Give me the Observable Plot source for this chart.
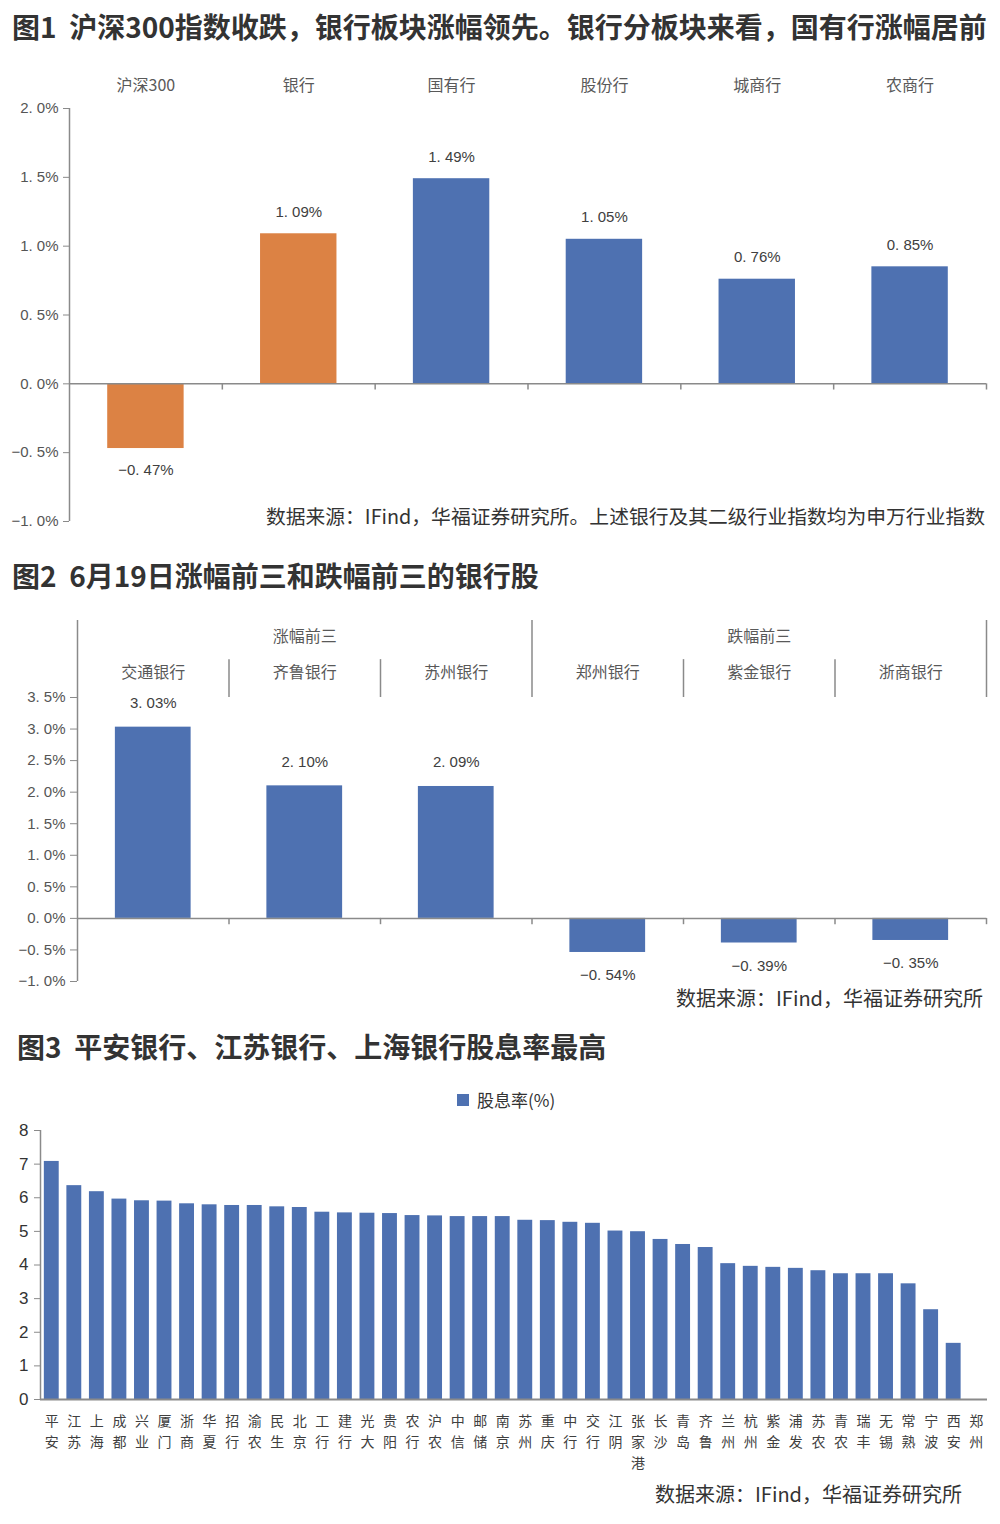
<!DOCTYPE html>
<html>
<head>
<meta charset="utf-8">
<script src="https://cdn.jsdelivr.net/npm/d3@7"></script>
<script src="https://cdn.jsdelivr.net/npm/@observablehq/plot@0.6"></script>
<style>
  body { margin: 0; background: #fff; }
  #page { position: relative; width: 1000px; height: 1524px; overflow: hidden; font-family: "Noto Sans CJK SC", sans-serif; background: #fff; }
  .title { position: absolute; font-weight: 700; font-size: 28px; line-height: 1; color: #333; white-space: nowrap; }
  .cap { position: absolute; font-size: 20px; line-height: 1; color: #333; white-space: nowrap; }
  .chart { position: absolute; left: 0; width: 1000px; }
  .legend { position: absolute; left: 457px; top: 1090px; font-size: 17px; line-height: 20px; color: #333; white-space: nowrap; display: flex; align-items: center; }
  .legend .sw { width: 12px; height: 12px; background: #4E71B1; margin-right: 8px; }
</style>
</head>
<body>
<div id="page">
  <div class="title" style="left:12px; top:12px;">图1&nbsp;&nbsp;沪深300指数收跌，银行板块涨幅领先。银行分板块来看，国有行涨幅居前</div>
  <div class="chart" id="c1" style="top:60px;"></div>
  <div class="cap" style="right:15px; top:506px; font-size:19.8px;">数据来源：IFind，华福证券研究所。上述银行及其二级行业指数均为申万行业指数</div>

  <div class="title" style="left:12px; top:561px;">图2&nbsp;&nbsp;6月19日涨幅前三和跌幅前三的银行股</div>
  <div class="chart" id="c2" style="top:600px;"></div>
  <div class="cap" style="right:17px; top:988px;">数据来源：IFind，华福证券研究所</div>

  <div class="title" style="left:17px; top:1032px;">图3&nbsp;&nbsp;平安银行、江苏银行、上海银行股息率最高</div>
  <div class="legend"><span class="sw"></span><span id="legtext"></span></div>
  <div class="chart" id="c3" style="top:1115px;"></div>
  <div class="cap" style="right:38px; top:1484px;">数据来源：IFind，华福证券研究所</div>
</div>
<script>
// ---------- data ----------
const fig1Categories = ["沪深300", "银行", "国有行", "股份行", "城商行", "农商行"];
const fig1Values = [-0.47, 1.09, 1.49, 1.05, 0.76, 0.85];
const fig1Levels = ["大盘指数", "一级行业", "二级行业", "二级行业", "二级行业", "二级行业"];
const fig1YTicks = [-1, -0.5, 0, 0.5, 1, 1.5, 2];

const fig2Groups = ["涨幅前三", "跌幅前三"];
const fig2Banks = ["交通银行", "齐鲁银行", "苏州银行", "郑州银行", "紫金银行", "浙商银行"];
const fig2Values = [3.03, 2.10, 2.09, -0.54, -0.39, -0.35];
const fig2YTicks = [-1, -0.5, 0, 0.5, 1, 1.5, 2, 2.5, 3, 3.5];

const fig3SeriesName = "股息率(%)";
const fig3Banks = ["平安", "江苏", "上海", "成都", "兴业", "厦门", "浙商", "华夏", "招行", "渝农",
  "民生", "北京", "工行", "建行", "光大", "贵阳", "农行", "沪农", "中信", "邮储",
  "南京", "苏州", "重庆", "中行", "交行", "江阴", "张家港", "长沙", "青岛", "齐鲁",
  "兰州", "杭州", "紫金", "浦发", "苏农", "青农", "瑞丰", "无锡", "常熟", "宁波",
  "西安", "郑州"];
const fig3Yields = [7.08, 6.36, 6.18, 5.96, 5.91, 5.90, 5.82, 5.79, 5.77, 5.77,
  5.73, 5.71, 5.57, 5.55, 5.54, 5.53, 5.47, 5.46, 5.44, 5.44,
  5.44, 5.33, 5.32, 5.27, 5.24, 5.01, 4.99, 4.76, 4.61, 4.52,
  4.04, 3.96, 3.93, 3.90, 3.83, 3.74, 3.74, 3.74, 3.44, 2.67,
  1.67, null];
const fig3YTicks = [0, 1, 2, 3, 4, 5, 6, 7, 8];

// ---------- styles ----------
const blue = "#4E71B1", orange = "#DC8244", axisGray = "#8A8A8A";
const numFont = '"Liberation Sans", "Noto Sans CJK SC", sans-serif';
const cjkFont = '"Noto Sans CJK SC", sans-serif';
const sign = v => (v < 0 ? "−" : "");
const fmtPct1 = v => sign(v) + Math.abs(v).toFixed(1).replace(".", ". ") + "%";
const fmtPct2 = v => sign(v) + Math.abs(v).toFixed(2).replace(".", ". ") + "%";
const baseStyle = {fontFamily: numFont, fontSize: "15px", background: "transparent", overflow: "visible"};

// ---------- figure 1 ----------
const d1 = fig1Categories.map((name, i) => ({name, value: fig1Values[i], level: fig1Levels[i], i}));
const n1 = d1.length;
const p1 = Plot.plot({
  width: 1000, height: 480,
  marginTop: 48, marginBottom: 19, marginLeft: 69, marginRight: 14,
  x: {domain: [0, n1], axis: null},
  y: {domain: [-1, 2]},
  color: {domain: ["大盘指数", "一级行业", "二级行业"], range: [orange, orange, blue]},
  style: baseStyle,
  marks: [
    Plot.rectY(d1, {x1: d => d.i + 0.25, x2: d => d.i + 0.75, y1: 0, y2: "value", fill: "level"}),
    Plot.ruleY([0], {stroke: axisGray, strokeWidth: 1.5}),
    Plot.ruleX([0], {y1: -1, y2: 2, stroke: axisGray, strokeWidth: 1.5}),
    Plot.ruleX(d3.range(1, n1 + 1), {y1: 0, y2: -0.045, stroke: axisGray, strokeWidth: 1.5}),
    Plot.axisY({ticks: fig1YTicks, tickFormat: fmtPct1, tickSize: 6, tickPadding: 5, stroke: axisGray, fill: "#555", label: null, fontSize: 15}),
    Plot.text(d1.filter(d => d.value >= 0), {x: d => d.i + 0.5, y: "value", text: d => fmtPct2(d.value), dy: -22, fill: "#404040", fontSize: 15}),
    Plot.text(d1.filter(d => d.value < 0), {x: d => d.i + 0.5, y: "value", text: d => fmtPct2(d.value), dy: 22, fill: "#404040", fontSize: 15}),
    Plot.text(d1, {x: d => d.i + 0.5, frameAnchor: "top", dy: -29, text: "name", fill: "#595959", fontSize: 16, fontFamily: cjkFont})
  ]
});
document.getElementById("c1").appendChild(p1);

// ---------- figure 2 ----------
const perGroup = fig2Banks.length / fig2Groups.length;
const d2 = fig2Banks.map((name, i) => ({name, value: fig2Values[i], group: fig2Groups[Math.floor(i / perGroup)], i}));
const n2 = d2.length;
const headTop = 4.72, subTop = 4.10, tickTop = 3.5;
const bounds2 = d3.range(0, n2 + 1);
const p2 = Plot.plot({
  width: 1000, height: 400,
  marginTop: 20, marginBottom: 19, marginLeft: 77, marginRight: 14,
  x: {domain: [0, n2], axis: null},
  y: {domain: [-1, headTop]},
  style: baseStyle,
  marks: [
    Plot.rectY(d2, {x1: d => d.i + 0.25, x2: d => d.i + 0.75, y1: 0, y2: "value", fill: blue}),
    Plot.ruleY([0], {stroke: axisGray, strokeWidth: 1.5}),
    Plot.ruleX([0], {y1: -1, y2: headTop, stroke: axisGray, strokeWidth: 1.5}),
    Plot.ruleX(bounds2.filter(k => k > 0 && k % perGroup === 0), {y1: tickTop, y2: headTop, stroke: axisGray, strokeWidth: 1.5}),
    Plot.ruleX(bounds2.filter(k => k % perGroup !== 0), {y1: tickTop, y2: subTop, stroke: axisGray, strokeWidth: 1.5}),
    Plot.ruleX(bounds2.filter(k => k > 0), {y1: 0, y2: -0.1, stroke: axisGray, strokeWidth: 1.5}),
    Plot.axisY({ticks: fig2YTicks, tickFormat: fmtPct1, tickSize: 7, tickPadding: 5, stroke: axisGray, fill: "#555", label: null, fontSize: 15}),
    Plot.text(d2.filter(d => d.value >= 0), {x: d => d.i + 0.5, y: "value", text: d => fmtPct2(d.value), dy: -24, fill: "#404040", fontSize: 15}),
    Plot.text(d2.filter(d => d.value < 0), {x: d => d.i + 0.5, y: "value", text: d => fmtPct2(d.value), dy: 23, fill: "#404040", fontSize: 15}),
    Plot.text(fig2Groups, {x: (d, i) => i * perGroup + perGroup / 2, frameAnchor: "top", dy: 10, text: d => d, fill: "#595959", fontSize: 16, fontFamily: cjkFont}),
    Plot.text(d2, {x: d => d.i + 0.5, frameAnchor: "top", dy: 46, text: "name", fill: "#595959", fontSize: 16, fontFamily: cjkFont})
  ]
});
document.getElementById("c2").appendChild(p2);

// ---------- figure 3 ----------
document.getElementById("legtext").textContent = fig3SeriesName;
const d3data = fig3Banks.map((name, i) => ({name, chars: [...name], value: fig3Yields[i], i}));
const n3 = d3data.length;
const maxChars = d3.max(d3data, d => d.chars.length);
const labelMarks = d3.range(maxChars).map(k =>
  Plot.text(d3data.filter(d => d.chars.length > k), {
    x: d => d.i + 0.5, y: 0, text: d => d.chars[k],
    dy: 22 + 21 * k, fill: "#404040", fontSize: 14, fontFamily: cjkFont
  })
);
const p3 = Plot.plot({
  width: 1000, height: 360,
  marginTop: 15, marginBottom: 76, marginLeft: 40, marginRight: 13,
  x: {domain: [0, n3], axis: null},
  y: {domain: [0, 8]},
  style: baseStyle,
  marks: [
    Plot.rectY(d3data.filter(d => d.value != null), {x1: d => d.i + 0.17, x2: d => d.i + 0.83, y1: 0, y2: "value", fill: blue}),
    Plot.ruleX([0], {y1: 0, y2: 8, stroke: axisGray, strokeWidth: 1.5}),
    Plot.ruleY([0], {stroke: axisGray, strokeWidth: 2}),
    Plot.axisY({ticks: fig3YTicks, tickSize: 6, tickPadding: 6, stroke: axisGray, fill: "#333", label: null, fontSize: 17}),
    ...labelMarks
  ]
});
document.getElementById("c3").appendChild(p3);
</script>
</body>
</html>
